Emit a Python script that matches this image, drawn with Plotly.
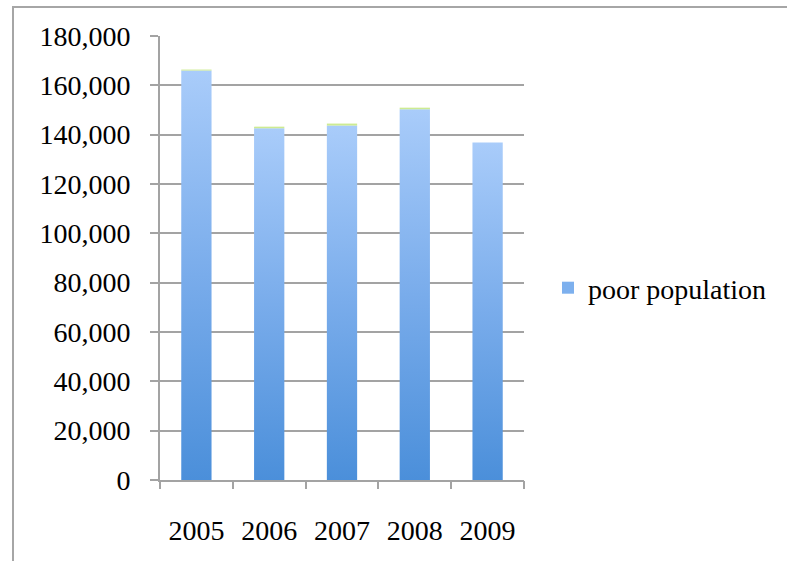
import plotly.graph_objects as go

# ---- data ----
years = ["2005", "2006", "2007", "2008", "2009"]
poor_population = [166000, 142600, 143700, 150300, 136800]
top_cap = [400, 650, 800, 650, 0]          # thin green segment on top of each bar
y_ticks = [0, 20000, 40000, 60000, 80000, 100000, 120000, 140000, 160000, 180000]

# ---- layout constants ----
W, H = 787, 561
L, R, T, B = 160, 524, 36, 480
BAR_HALF = 0.208
FONT = "Liberation Serif"
GRID = "#A3A3A3"

fig = go.Figure()

n = len(years)
for i, (v, g) in enumerate(zip(poor_population, top_cap)):
    xs = [i - BAR_HALF, i + BAR_HALF, i + BAR_HALF, i - BAR_HALF, i - BAR_HALF]
    fig.add_trace(go.Scatter(
        x=xs, y=[0, 0, v, v, 0], mode="lines", fill="toself",
        line=dict(width=0, color="rgba(0,0,0,0)"),
        fillgradient=dict(type="vertical", start=0, stop=v,
                          colorscale=[[0, "#4B8FDA"], [0.5, "#79ACEB"], [1, "#A9CCFA"]]),
        showlegend=False, hoverinfo="skip"))
    if g > 0:
        fig.add_trace(go.Scatter(
            x=xs, y=[v, v, v + g, v + g, v], mode="lines", fill="toself",
            line=dict(width=0, color="rgba(0,0,0,0)"),
            fillcolor="#CDEB92", showlegend=False, hoverinfo="skip"))

# legend entry
fig.add_trace(go.Bar(x=[None], y=[None], name="poor population",
                     marker=dict(color="#7DB0EE", line=dict(width=0))))

pw, ph = R - L, B - T
fig.update_layout(
    width=W, height=H,
    margin=dict(l=L, r=W - R, t=T, b=H - B, pad=0, autoexpand=False),
    paper_bgcolor="white", plot_bgcolor="white",
    font=dict(family=FONT, size=28, color="black"),
    showlegend=True,
    legend=dict(x=(548 - L) / pw, y=(B - 288) / ph, xanchor="left", yanchor="middle",
                font=dict(family=FONT, size=28, color="black"),
                bgcolor="rgba(0,0,0,0)", itemwidth=30, tracegroupgap=0),
    xaxis=dict(range=[-0.5, n - 0.5], tickmode="array",
               tickvals=list(range(n)), ticktext=years,
               ticks="", showgrid=False, zeroline=False,
               showline=True, linecolor=GRID, linewidth=2,
               tickfont=dict(family=FONT, size=28), ticklabelstandoff=24,
               fixedrange=True),
    xaxis2=dict(range=[-0.5, n - 0.5], overlaying="x", side="bottom",
                tickmode="array", tickvals=[i - 0.5 for i in range(n + 1)],
                ticks="outside", ticklen=8, tickwidth=2, tickcolor=GRID,
                showticklabels=False, showgrid=False, zeroline=False,
                showline=False),
    yaxis=dict(range=[0, 180000], tickmode="array", tickvals=y_ticks,
               tickformat=",d", ticks="outside", ticklen=8, tickwidth=2,
               tickcolor=GRID, showgrid=True, gridcolor=GRID, gridwidth=2,
               zeroline=False, showline=True, linecolor=GRID, linewidth=2,
               tickfont=dict(family=FONT, size=28), ticklabelstandoff=14),
    shapes=[dict(type="rect", xref="paper", yref="paper",
                 x0=(13 - L) / pw, x1=(W + 50 - L) / pw,
                 y0=(B - (H + 50)) / ph, y1=(B - 7) / ph,
                 line=dict(color="#A6A6A6", width=2), fillcolor="rgba(0,0,0,0)",
                 layer="below")],
)
# a dummy trace on xaxis2 so its ticks render
fig.add_trace(go.Scatter(x=[None], y=[None], xaxis="x2", showlegend=False, hoverinfo="skip"))

fig.write_html("out.html")
